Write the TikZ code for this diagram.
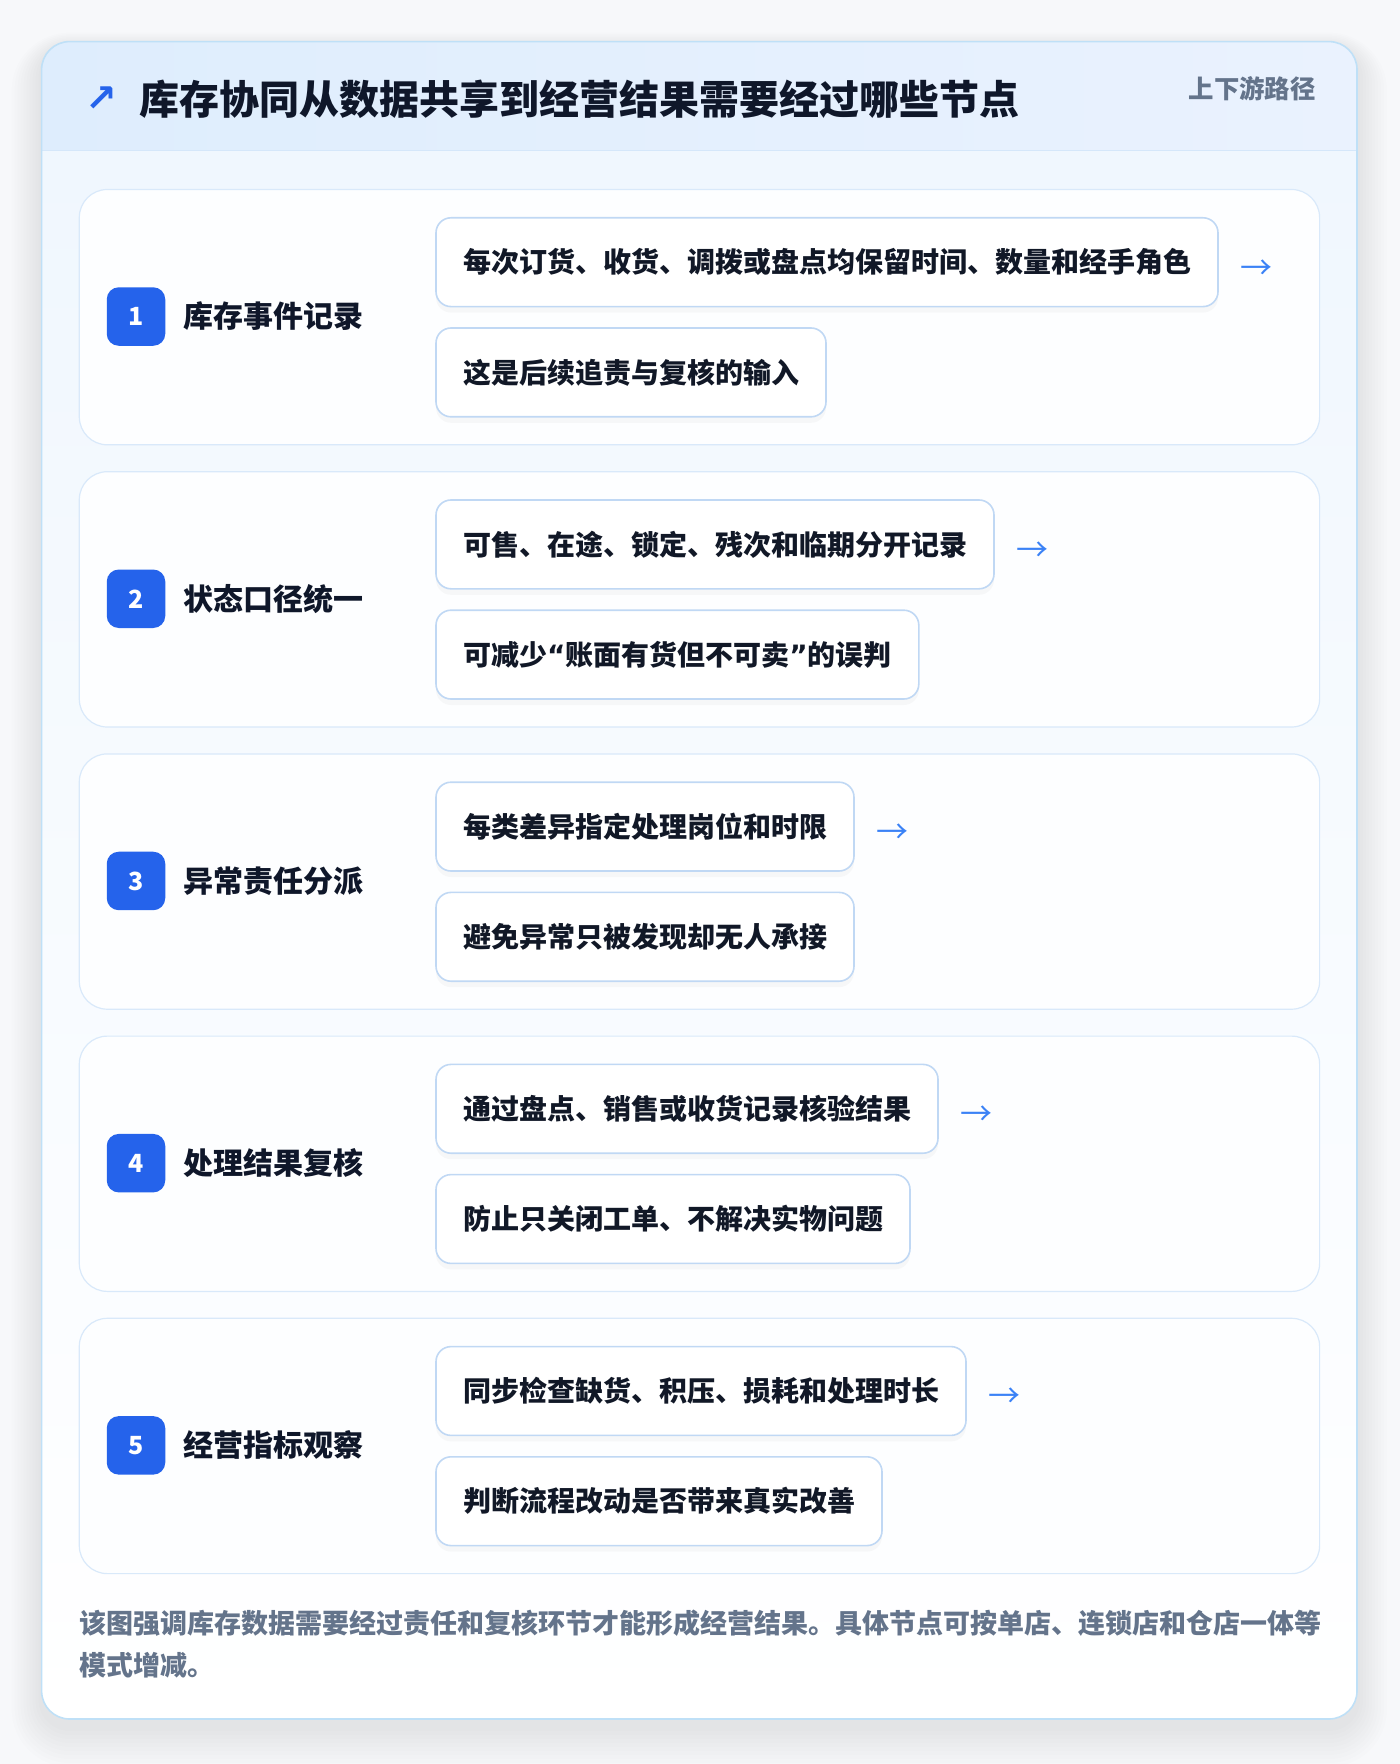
\documentclass[tikz,border=0pt]{standalone}
\usepackage{fontspec}
\setmainfont{Noto Sans CJK SC}
\newfontfamily\symf{DejaVu Sans}
\usetikzlibrary{shadows,calc}
\definecolor{pagebg}{HTML}{F7F8FA}
\definecolor{cardborder}{HTML}{BFE0F7}
\definecolor{hdrL}{HTML}{DEEDFD}
\definecolor{hdrR}{HTML}{EAF2FE}
\definecolor{hdrline}{HTML}{D5E7FA}
\definecolor{bodytop}{HTML}{F0F7FE}
\definecolor{rowfill}{HTML}{FDFEFF}
\definecolor{rowborder}{HTML}{D9E9FA}
\definecolor{itemborder}{HTML}{C0D8F4}
\definecolor{textdark}{HTML}{111827}
\definecolor{titlec}{HTML}{0F172A}
\definecolor{grayc}{HTML}{64748B}
\definecolor{badgec}{HTML}{2563EB}
\definecolor{arrowc}{HTML}{3B82F6}
\newcommand{\myopq}{{\symf\bfseries “}}
\newcommand{\myclq}{{\symf\bfseries ”}}
\tikzset{
  rowcard/.style={draw=rowborder, line width=0.6pt, fill=rowfill, rounded corners=14pt,
    minimum width=620.15pt, minimum height=127.65pt, inner sep=0pt},
  itembox/.style={draw=itemborder, line width=0.8pt, fill=white, rounded corners=7.5pt,
    minimum height=44.4pt, inner xsep=13.5pt, inner ysep=0pt, text=textdark,
    font=\fontsize{14pt}{17pt}\selectfont\bfseries,
    drop shadow={opacity=0.05, shadow xshift=0pt, shadow yshift=-3pt}},
  badge/.style={fill=badgec, rounded corners=6pt, minimum size=29.25pt, inner sep=0pt,
    text=white, font=\fontsize{12.5pt}{14pt}\selectfont\bfseries},
  rowlab/.style={inner sep=0pt, text=titlec, font=\fontsize{15pt}{18pt}\selectfont\bfseries},
  arrowtxt/.style={inner sep=0pt, text=arrowc, font=\fontsize{16pt}{18pt}\selectfont},
}
\begin{document}
\begin{tikzpicture}[x=0.5pt,y=-0.5pt]
\useasboundingbox (0,0) rectangle (1400,1764);
\fill[pagebg] (0,0) rectangle (1400,1764);
% soft shadow of the card
\foreach \i in {1,...,10}{
  \fill[black, opacity=0.006, rounded corners=14pt+\i*1.5pt]
    (41.6-\i*3,41.6-\i*1.5+6) rectangle (1357+\i*3,1719+\i*4+8);
}
\begin{scope}
\clip[rounded corners=14pt] (41.6,41.6) rectangle (1357,1719);
\shade[top color=bodytop, bottom color=white] (41.6,150.7) rectangle (1357,1719);
\shade[left color=hdrL, right color=hdrR] (41.6,41.6) rectangle (1357,150.7);
\end{scope}
\draw[hdrline, line width=0.6pt] (41.6,150.7) -- (1357,150.7);
\draw[cardborder, line width=0.8pt, rounded corners=14pt] (41.6,41.6) rectangle (1357,1719);

\node[inner sep=0pt, text=badgec, font=\symf\fontsize{19pt}{21pt}\selectfont\bfseries] (ticon) at (101.5,99.5) {↗};
\node[inner sep=0pt, anchor=west, text=titlec, font=\fontsize{20pt}{24pt}\selectfont\bfseries] (title) at (139.4,99) {库存协同从数据共享到经营结果需要经过哪些节点};
\node[inner sep=0pt, anchor=east, text=grayc, font=\fontsize{12.7pt}{15pt}\selectfont\bfseries] (tag) at (1316,89) {上下游路径};

\foreach \n/\lab/\a/\b in {
  1/库存事件记录/每次订货、收货、调拨或盘点均保留时间、数量和经手角色/这是后续追责与复核的输入,
  2/状态口径统一/可售、在途、锁定、残次和临期分开记录/可减少\myopq 账面有货但不可卖\myclq 的误判,
  3/异常责任分派/每类差异指定处理岗位和时限/避免异常只被发现却无人承接,
  4/处理结果复核/通过盘点、销售或收货记录核验结果/防止只关闭工单、不解决实物问题,
  5/经营指标观察/同步检查缺货、积压、损耗和处理时长/判断流程改动是否带来真实改善}{
  \pgfmathsetmacro\rtop{188.9+282.2*(\n-1)}
  \pgfmathsetmacro\rmid{\rtop+127.65}
  \pgfmathsetmacro\atop{\rtop+28.1}
  \pgfmathsetmacro\btop{\rtop+138.3}
  \node[rowcard, anchor=north west] (row\n) at (78.7,\rtop) {};
  \node[badge] (badge\n) at (136,\rmid) {\n};
  \node[rowlab, anchor=west] (lab\n) at (183.3,\rmid) {\lab};
  \node[itembox, anchor=north west] (itemA\n) at (435.2,\atop) {\a};
  \node[itembox, anchor=north west] (itemB\n) at (435.2,\btop) {\b};
  \node[arrowtxt, anchor=west] (arr\n) at ([xshift=10.8pt,yshift=-3.5pt]itemA\n.east) {→};
}

\node[inner sep=0pt, anchor=base west, align=left, text=grayc,
  font=\fontsize{13.5pt}{20.6pt}\selectfont\bfseries] (foot) at (78.7,1675)
  {该图强调库存数据需要经过责任和复核环节才能形成经营结果。具体节点可按单店、连锁店和仓店一体等\\模式增减。};
\end{tikzpicture}
\end{document}
